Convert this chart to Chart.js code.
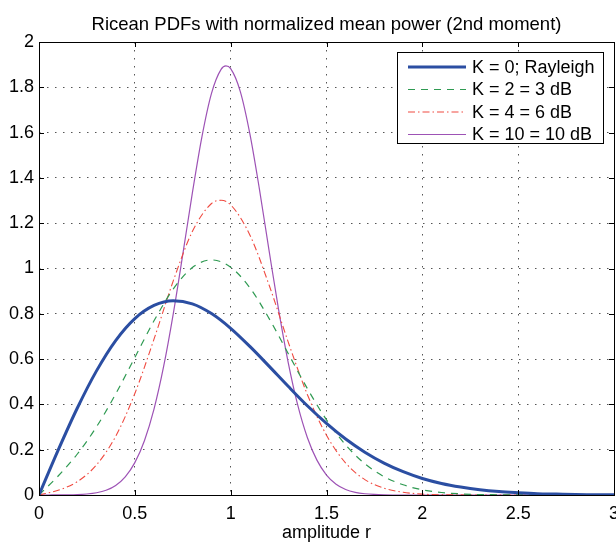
<!DOCTYPE html>
<html>
<head>
<meta charset="utf-8">
<script src="https://cdn.jsdelivr.net/npm/chart.js@4.4.1/dist/chart.umd.min.js"></script>
<style>
  html, body { margin: 0; padding: 0; background: #fff; }
  #wrap { width: 616px; height: 543px; }
</style>
</head>
<body>
<div id="wrap"><canvas id="chart" width="616" height="543"></canvas></div>
<script>
// Data
const rCoarse = [0, 0.1, 0.2, 0.3, 0.4, 0.5, 0.6, 0.7, 0.8, 0.9, 1.0, 1.1, 1.2, 1.3, 1.4, 1.5,
  1.6, 1.7, 1.8, 1.9, 2.0, 2.1, 2.2, 2.3, 2.4, 2.5, 2.6, 2.7, 2.8, 2.9, 3.0];
const pdfK0 = [0, 0.198, 0.384, 0.548, 0.682, 0.779, 0.837, 0.858, 0.844, 0.801, 0.736, 0.656,
  0.569, 0.480, 0.394, 0.316, 0.247, 0.189, 0.141, 0.103, 0.073, 0.051, 0.035, 0.023, 0.015,
  0.010, 0.006, 0.004, 0.002, 0.001, 0.001];
const pdfK2 = [0, 0.084, 0.181, 0.301, 0.446, 0.607, 0.769, 0.909, 1.004, 1.038, 1.006, 0.915,
  0.780, 0.625, 0.470, 0.332, 0.221, 0.138, 0.081, 0.045, 0.023, 0.011, 0.005, 0.002, 0.001,
  0.0004, 0.0001, 0, 0, 0, 0];

const rK4 = [0, 0.1, 0.2, 0.3, 0.4, 0.5, 0.6, 0.7, 0.8, 0.9, 0.95, 1.0, 1.1, 1.2, 1.3, 1.4, 1.5,
  1.6, 1.7, 1.8, 1.9, 2.0, 2.1, 2.2, 2.3, 2.4, 2.5, 2.6, 2.7, 2.8, 2.9, 3.0];
const pdfK4 = [0, 0.021, 0.059, 0.133, 0.259, 0.448, 0.688, 0.944, 1.163, 1.287, 1.301, 1.281,
  1.148, 0.928, 0.676, 0.444, 0.264, 0.141, 0.068, 0.030, 0.012, 0.004, 0.001, 0.0004, 0.0001,
  0, 0, 0, 0, 0, 0, 0];

const rK10 = [0, 0.05, 0.1, 0.15, 0.2, 0.25, 0.3, 0.35, 0.4, 0.45, 0.5, 0.55, 0.6, 0.65, 0.7,
  0.75, 0.8, 0.85, 0.9, 0.95, 0.975, 1.0, 1.05, 1.1, 1.15, 1.2, 1.25, 1.3, 1.35, 1.4, 1.45, 1.5,
  1.55, 1.6, 1.65, 1.7, 1.75, 1.8, 1.9, 2.0, 2.5, 3.0];
const pdfK10 = [0, 0.0001, 0.0002, 0.0006, 0.0017, 0.0043, 0.0098, 0.0210, 0.0424, 0.0802,
  0.1429, 0.2398, 0.3794, 0.5663, 0.7978, 1.0611, 1.3329, 1.5816, 1.7734, 1.8792, 1.8944,
  1.8823, 1.7823, 1.5955, 1.3506, 1.0810, 0.8182, 0.5857, 0.3966, 0.2540, 0.1539, 0.0881,
  0.0478, 0.0245, 0.0119, 0.0055, 0.0024, 0.0010, 0.0001, 0, 0, 0];

const seriesNames = ['K = 0; Rayleigh', 'K = 2 = 3 dB', 'K = 4 = 6 dB', 'K = 10 = 10 dB'];
const xTicks = [0, 0.5, 1, 1.5, 2, 2.5, 3];
const xTickLabels = ['0', '0.5', '1', '1.5', '2', '2.5', '3'];
const yTicks = [0, 0.2, 0.4, 0.6, 0.8, 1, 1.2, 1.4, 1.6, 1.8, 2];
const yTickLabels = ['0', '0.2', '0.4', '0.6', '0.8', '1', '1.2', '1.4', '1.6', '1.8', '2'];

const FONT = '"Liberation Sans", Arial, Helvetica, sans-serif';

function toPoints(xs, ys) {
  return xs.map((x, i) => ({ x: x, y: ys[i] }));
}

// Box round the axes with inward tick marks
const boxPlugin = {
  id: 'box',
  afterDatasetsDraw(chart) {
    const { ctx, chartArea: a, scales } = chart;
    const len = 5;
    ctx.save();
    ctx.strokeStyle = '#000';
    ctx.lineWidth = 1;
    ctx.beginPath();
    xTicks.forEach((v) => {
      const px = Math.round(scales.x.getPixelForValue(v)) + 0.5;
      ctx.moveTo(px, a.bottom);
      ctx.lineTo(px, a.bottom - len);
      ctx.moveTo(px, a.top);
      ctx.lineTo(px, a.top + len);
    });
    yTicks.forEach((v) => {
      const py = Math.round(scales.y.getPixelForValue(v)) + 0.5;
      ctx.moveTo(a.left, py);
      ctx.lineTo(a.left + len, py);
      ctx.moveTo(a.right, py);
      ctx.lineTo(a.right - len, py);
    });
    ctx.stroke();
    ctx.strokeRect(Math.round(a.left) + 0.5, Math.round(a.top) + 0.5,
      Math.round(a.right - a.left), Math.round(a.bottom - a.top));
    ctx.restore();
  },
};

// Legend box in the upper right corner
const legendPlugin = {
  id: 'boxLegend',
  afterDraw(chart) {
    const { ctx, chartArea: a } = chart;
    const boxW = 206;
    const boxH = 91;
    const x0 = a.right - 11 - boxW;
    const y0 = a.top + 10;
    ctx.save();
    ctx.fillStyle = '#fff';
    ctx.fillRect(x0, y0, boxW, boxH);
    ctx.strokeStyle = '#000';
    ctx.lineWidth = 1;
    ctx.strokeRect(Math.round(x0) + 0.5, Math.round(y0) + 0.5, boxW, boxH);
    ctx.font = '18px ' + FONT;
    ctx.textBaseline = 'middle';
    ctx.fillStyle = '#000';
    chart.data.datasets.forEach((ds, i) => {
      const y = y0 + 15 + i * 22.5;
      ctx.beginPath();
      ctx.strokeStyle = ds.borderColor;
      ctx.lineWidth = ds.borderWidth;
      ctx.setLineDash(ds.borderDash || []);
      ctx.moveTo(x0 + 11, y);
      ctx.lineTo(x0 + 69, y);
      ctx.stroke();
      ctx.setLineDash([]);
      ctx.fillText(ds.label, x0 + 75, y + 1);
    });
    ctx.restore();
  },
};

const datasets = [
  { label: seriesNames[0], data: toPoints(rCoarse, pdfK0), borderColor: '#2b4ea2', borderWidth: 3, borderDash: [] },
  { label: seriesNames[1], data: toPoints(rCoarse, pdfK2), borderColor: '#2f9a52', borderWidth: 1.2, borderDash: [7, 6] },
  { label: seriesNames[2], data: toPoints(rK4, pdfK4), borderColor: '#f04a40', borderWidth: 1.1, borderDash: [7, 3, 1.5, 3] },
  { label: seriesNames[3], data: toPoints(rK10, pdfK10), borderColor: '#9d52b5', borderWidth: 1.2, borderDash: [] },
];

new Chart(document.getElementById('chart'), {
  type: 'line',
  data: { datasets: datasets },
  options: {
    responsive: false,
    animation: false,
    devicePixelRatio: 1,
    layout: { padding: { left: 0, right: 2, top: 0, bottom: 0 } },
    elements: {
      point: { radius: 0 },
      line: { cubicInterpolationMode: 'monotone', fill: false },
    },
    plugins: {
      legend: { display: false },
      tooltip: { enabled: false },
      title: {
        display: true,
        fullSize: false,
        text: 'Ricean PDFs with normalized mean power (2nd moment)',
        color: '#000',
        font: { family: FONT, size: 18.5, weight: 'normal', lineHeight: 1.2 },
        padding: { top: 14, bottom: 5.8 },
      },
    },
    scales: {
      x: {
        type: 'linear',
        min: 0,
        max: 3,
        afterBuildTicks: (s) => { s.ticks = xTicks.map((v) => ({ value: v })); },
        afterFit: (s) => { s.height = 48; s.paddingLeft = 0; s.paddingRight = 0; },
        ticks: {
          color: '#000',
          font: { family: FONT, size: 18 },
          padding: 8,
          maxRotation: 0,
          autoSkip: false,
          callback: (v) => xTickLabels[xTicks.indexOf(v)],
        },
        grid: { color: '#555', lineWidth: 1, drawTicks: false },
        border: { display: false, dash: [1.5, 6.5] },
        title: {
          display: true,
          text: 'amplitude r',
          color: '#000',
          font: { family: FONT, size: 18, lineHeight: 1.1 },
          padding: { top: 0, bottom: 0 },
        },
      },
      y: {
        type: 'linear',
        min: 0,
        max: 2,
        afterBuildTicks: (s) => { s.ticks = yTicks.map((v) => ({ value: v })); },
        afterFit: (s) => { s.width = 39; s.paddingTop = 0; s.paddingBottom = 0; },
        ticks: {
          color: '#000',
          font: { family: FONT, size: 18 },
          padding: 5,
          autoSkip: false,
          callback: (v) => yTickLabels[yTicks.indexOf(v)],
        },
        grid: { color: '#555', lineWidth: 1, drawTicks: false },
        border: { display: false, dash: [1.5, 6.5] },
      },
    },
  },
  plugins: [boxPlugin, legendPlugin],
});
</script>
</body>
</html>
